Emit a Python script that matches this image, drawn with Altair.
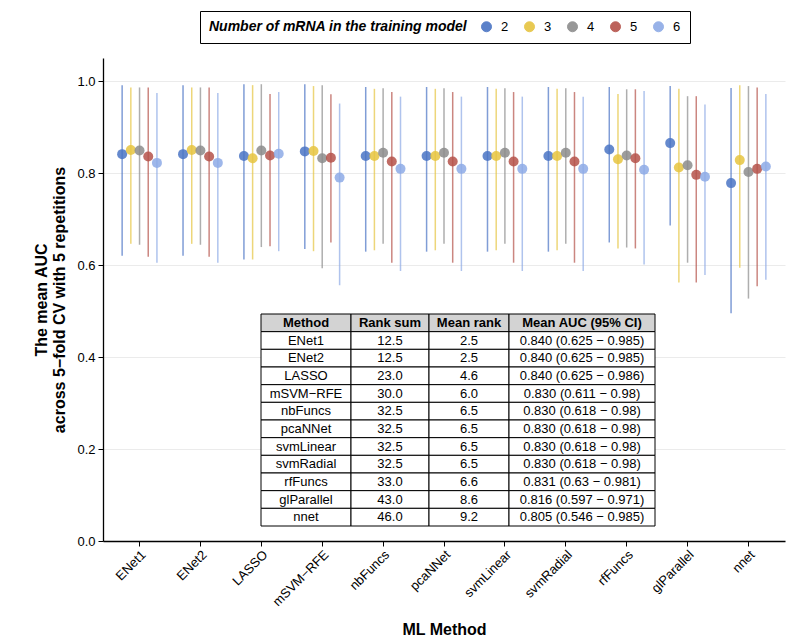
import altair as alt
import pandas as pd

methods = ["ENet1", "ENet2", "LASSO", "mSVM−RFE", "nbFuncs", "pcaNNet",
           "svmLinear", "svmRadial", "rfFuncs", "glParallel", "nnet"]
n_mrna = [2, 3, 4, 5, 6]
mrna_colors = ["#4a74c4", "#e6c440", "#8c8c8c", "#b5524a", "#8daae6"]

# mean AUC and 95% CI per number of mRNA, one value per method (same order)
auc_mean = {
    2: [0.841, 0.841, 0.837, 0.847, 0.837, 0.837, 0.837, 0.837, 0.851, 0.865, 0.778],
    3: [0.850, 0.850, 0.832, 0.848, 0.837, 0.837, 0.837, 0.837, 0.830, 0.812, 0.828],
    4: [0.849, 0.849, 0.849, 0.832, 0.844, 0.844, 0.844, 0.844, 0.838, 0.817, 0.802],
    5: [0.836, 0.836, 0.838, 0.833, 0.825, 0.825, 0.825, 0.825, 0.832, 0.796, 0.809],
    6: [0.822, 0.822, 0.842, 0.790, 0.809, 0.809, 0.809, 0.809, 0.807, 0.792, 0.814],
}
auc_low = {
    2: [0.620, 0.620, 0.612, 0.635, 0.629, 0.629, 0.629, 0.629, 0.649, 0.686, 0.495],
    3: [0.646, 0.646, 0.612, 0.630, 0.632, 0.632, 0.632, 0.632, 0.636, 0.562, 0.594],
    4: [0.644, 0.644, 0.639, 0.593, 0.646, 0.646, 0.646, 0.646, 0.638, 0.605, 0.527],
    5: [0.618, 0.618, 0.641, 0.649, 0.605, 0.605, 0.605, 0.605, 0.636, 0.562, 0.554],
    6: [0.605, 0.605, 0.630, 0.556, 0.587, 0.587, 0.587, 0.587, 0.601, 0.578, 0.568],
}
auc_high = {
    2: [0.991, 0.991, 0.993, 0.993, 0.987, 0.987, 0.987, 0.987, 0.987, 0.989, 0.985],
    3: [0.986, 0.986, 0.991, 0.989, 0.983, 0.983, 0.983, 0.983, 0.972, 0.983, 0.991],
    4: [0.986, 0.986, 0.993, 0.991, 0.984, 0.984, 0.984, 0.984, 0.982, 0.967, 0.989],
    5: [0.986, 0.986, 0.972, 0.971, 0.976, 0.976, 0.976, 0.976, 0.982, 0.967, 0.986],
    6: [0.974, 0.974, 0.976, 0.951, 0.966, 0.966, 0.966, 0.966, 0.978, 0.949, 0.972],
}

# summary table
table_header = ["Method", "Rank sum", "Mean rank", "Mean AUC (95% CI)"]
table_method = methods
rank_sum = ["12.5", "12.5", "23.0", "30.0", "32.5", "32.5", "32.5", "32.5", "33.0", "43.0", "46.0"]
mean_rank = ["2.5", "2.5", "4.6", "6.0", "6.5", "6.5", "6.5", "6.5", "6.6", "8.6", "9.2"]
mean_auc_ci = ["0.840 (0.625 − 0.985)", "0.840 (0.625 − 0.985)", "0.840 (0.625 − 0.986)",
               "0.830 (0.611 − 0.98)", "0.830 (0.618 − 0.98)", "0.830 (0.618 − 0.98)",
               "0.830 (0.618 − 0.98)", "0.830 (0.618 − 0.98)", "0.831 (0.63 − 0.981)",
               "0.816 (0.597 − 0.971)", "0.805 (0.546 − 0.985)"]

FONT = "Liberation Sans"
W, H = 682, 483
col_widths = [90, 78, 80, 146]      # table column widths, px
table_left, table_top, table_bottom = 158, 256, 468

rows = []
for m in n_mrna:
    for i, meth in enumerate(methods):
        rows.append({"method": meth, "mrna": m, "auc": auc_mean[m][i],
                     "lo": auc_low[m][i], "hi": auc_high[m][i]})
df = pd.DataFrame(rows)

cells = []
body = list(zip(table_method, rank_sum, mean_rank, mean_auc_ci))
edges = [sum(col_widths[:k]) for k in range(len(col_widths) + 1)]
for r, vals in enumerate([table_header] + body):
    for c, txt in enumerate(vals):
        cells.append({"row": r, "x0": edges[c], "x1": edges[c + 1],
                      "xm": (edges[c] + edges[c + 1]) / 2, "txt": txt,
                      "head": r == 0})
tdf = pd.DataFrame(cells)

x = alt.X("method:N", sort=methods, title="ML Method",
          scale=alt.Scale(paddingInner=0, paddingOuter=0.1),
          axis=alt.Axis(labelAngle=315, labelAlign="right", labelBaseline="top",
                        bandPosition=0.5, titlePadding=13))
xoff = alt.XOffset("mrna:N", scale=alt.Scale(domain=n_mrna, paddingInner=0, paddingOuter=1))
y_scale = alt.Scale(domain=[0, 1.05], nice=False)

# same legend on both layers: a disabled legend would be merged in and hide it
legend = alt.Legend(title="Number of mRNA in the training model", titleLimit=400,
                    orient="none", legendX=97, legendY=-47,
                    direction="horizontal", titleOrient="left",
                    symbolType="circle", symbolSize=100, symbolStrokeWidth=1,
                    symbolOpacity=0.9, columnPadding=13, labelOffset=8)
color = alt.Color("mrna:N", scale=alt.Scale(domain=n_mrna, range=mrna_colors), legend=legend)

base = alt.Chart(df)
rules = base.mark_rule(strokeWidth=1.5, opacity=0.7).encode(
    x=x, xOffset=xoff,
    y=alt.Y("lo:Q", scale=y_scale,
            title=["The mean AUC", "across 5−fold CV with 5 repetitions"],
            axis=alt.Axis(values=[0, 0.2, 0.4, 0.6, 0.8, 1.0], format=".1f",
                          labelPadding=3, titlePadding=9)),
    y2="hi:Q",
    color=color,
)
points = base.mark_circle(size=100, opacity=0.85).encode(
    x=x, xOffset=xoff, y=alt.Y("auc:Q", scale=y_scale), color=color,
)
main = alt.layer(rules, points)

tx = alt.Scale(domain=[0, sum(col_widths)], range=[table_left, table_left + sum(col_widths)])
ty = alt.Scale(range=[table_top, table_bottom], paddingInner=0, paddingOuter=0)
tbase = alt.Chart(tdf)
cell_rects = tbase.mark_rect(stroke="black", strokeWidth=1).encode(
    x=alt.X("x0:Q", scale=tx, axis=None), x2="x1:Q",
    y=alt.Y("row:O", scale=ty, axis=None),
    fill=alt.condition("datum.head", alt.value("#d3d3d3"), alt.value("white")),
)
text_enc = dict(x=alt.X("xm:Q", scale=tx, axis=None),
                y=alt.Y("row:O", scale=ty, axis=None), text="txt:N")
head_text = tbase.mark_text(font=FONT, fontSize=13, fontWeight="bold", color="black").encode(
    **text_enc).transform_filter("datum.head")
body_text = tbase.mark_text(font=FONT, fontSize=13, color="black").encode(
    **text_enc).transform_filter("!datum.head")
table = alt.layer(cell_rects, head_text, body_text)

chart = alt.layer(main, table).resolve_scale(x="independent", y="independent").properties(
    width=W, height=H, padding={"left": 25, "top": 2, "right": 5, "bottom": 2}
).configure_view(stroke=None).configure_axis(
    labelFont=FONT, labelFontSize=13, labelColor="black",
    titleFont=FONT, titleFontSize=16, titleFontWeight="bold", titleColor="black",
    domainColor="black", domainWidth=1.3, tickColor="black", tickSize=5,
    gridColor="#ebebeb", gridWidth=1,
).configure_legend(
    titleFont=FONT, titleFontSize=14, titleFontStyle="italic", titleFontWeight="bold",
    titleColor="black", labelFont=FONT, labelFontSize=13, labelColor="black",
    strokeColor="black", padding=9, titlePadding=12,
)

chart.save("out.html", embed_options={"renderer": "svg", "actions": False})
